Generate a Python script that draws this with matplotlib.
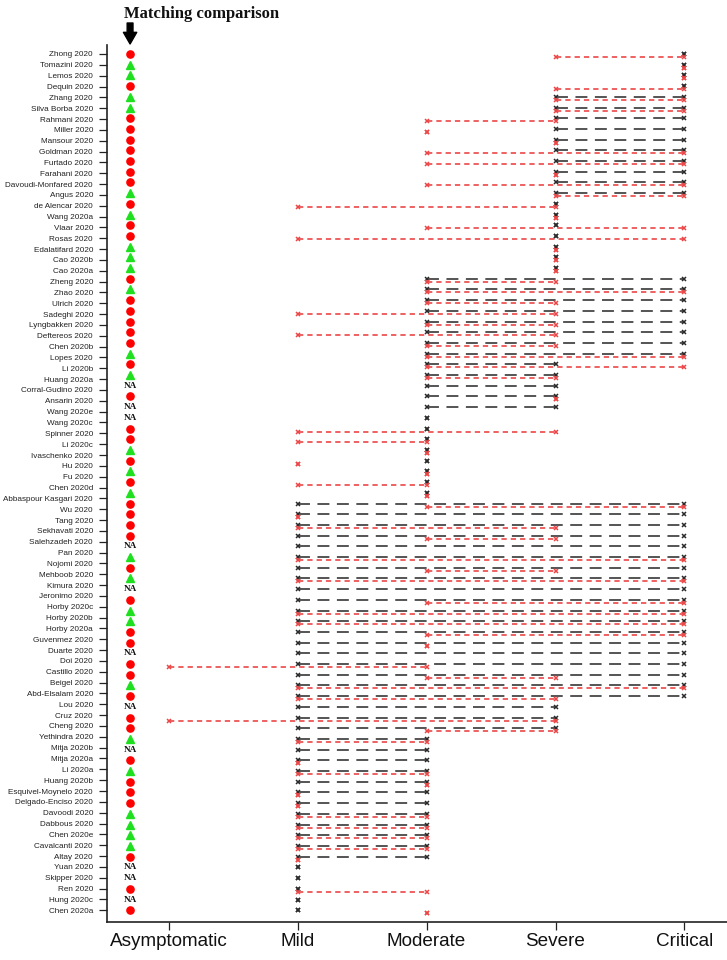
import numpy as np
import matplotlib
matplotlib.use("Agg")
import matplotlib.pyplot as plt

plt.rcParams['font.family'] = ['Liberation Sans', 'DejaVu Sans']
plt.rcParams['lines.scale_dashes'] = False

# ---- data ----
study_labels = [
    "Zhong 2020", "Tomazini 2020", "Lemos 2020", "Dequin 2020", "Zhang 2020",
    "Silva Borba 2020", "Rahmani 2020", "Miller 2020", "Mansour 2020", "Goldman 2020",
    "Furtado 2020", "Farahani 2020", "Davoudi-Monfared 2020", "Angus 2020", "de Alencar 2020",
    "Wang 2020a", "Vlaar 2020", "Rosas 2020", "Edalatifard 2020", "Cao 2020b",
    "Cao 2020a", "Zheng 2020", "Zhao 2020", "Ulrich 2020", "Sadeghi 2020",
    "Lyngbakken 2020", "Deftereos 2020", "Chen 2020b", "Lopes 2020", "Li 2020b",
    "Huang 2020a", "Corral-Gudino 2020", "Ansarin 2020", "Wang 2020e", "Wang 2020c",
    "Spinner 2020", "Li 2020c", "Ivaschenko 2020", "Hu 2020", "Fu 2020",
    "Chen 2020d", "Abbaspour Kasgari 2020", "Wu 2020", "Tang 2020", "Sekhavati 2020",
    "Salehzadeh 2020", "Pan 2020", "Nojomi 2020", "Mehboob 2020", "Kimura 2020",
    "Jeronimo 2020", "Horby 2020c", "Horby 2020b", "Horby 2020a", "Guvenmez 2020",
    "Duarte 2020", "Doi 2020", "Castillo 2020", "Beigel 2020", "Abd-Elsalam 2020",
    "Lou 2020", "Cruz 2020", "Cheng 2020", "Yethindra 2020", "Mitja 2020b",
    "Mitja 2020a", "Li 2020a", "Huang 2020b", "Esquivel-Moynelo 2020", "Delgado-Enciso 2020",
    "Davoodi 2020", "Dabbous 2020", "Chen 2020e", "Cavalcanti 2020", "Altay 2020",
    "Yuan 2020", "Skipper 2020", "Ren 2020", "Hung 2020c", "Chen 2020a",
]

severity_labels = ["Asymptomatic", "Mild", "Moderate", "Severe", "Critical"]

# matching comparison: C = red circle, T = green triangle, N = "NA"
matching = [
    "C", "T", "T", "C", "T", "T", "C", "C", "C", "C",
    "C", "C", "C", "T", "C", "T", "C", "C", "T", "T",
    "T", "C", "T", "C", "C", "C", "C", "C", "T", "C",
    "T", "N", "C", "N", "N", "C", "C", "T", "C", "T",
    "C", "T", "C", "C", "C", "C", "N", "T", "C", "T",
    "N", "C", "T", "T", "C", "C", "N", "C", "C", "T",
    "C", "N", "C", "C", "T", "N", "C", "T", "C", "C",
    "C", "T", "T", "T", "T", "C", "N", "N", "C", "N",
    "C",
]

# black range (0=Asymptomatic ... 4=Critical)
black_lo = [4] * 4 + [3] * 10 + [3] * 7 + [2] * 10 + [2] * 3 + [2] * 8 + [1] * 39
black_hi = [4] * 14 + [3] * 7 + [4] * 8 + [3] * 5 + [2] * 8 + [4] * 19 + [3] * 3 + [2] * 12 + [1] * 5

# red range (None = absent)
red_lo = [3, 4, 4, 3, 3, 3, 2, 2, 3, 2,
          2, 3, 2, 3, 1, 3, 2, 1, 3, 3,
          3, 2, 2, 2, 1, 2, 1, 2, 2, 2,
          2, None, 3, None, None, 1, 1, 2, 1, 2,
          1, 2, 2, 1, 1, 2, None, 1, 2, 1,
          None, 2, 1, 1, 2, 2, None, 0, 2, 1,
          1, None, 0, 2, 1, None, 1, 1, 2, 1,
          1, 1, 1, 1, 1, 1, None, None, 1, None,
          2]
red_hi = [4, 4, 4, 4, 4, 4, 3, 2, 3, 4,
          4, 3, 4, 4, 3, 3, 4, 4, 3, 3,
          3, 3, 4, 3, 3, 3, 3, 3, 4, 4,
          3, None, 3, None, None, 3, 2, 2, 1, 2,
          2, 2, 4, 1, 3, 3, None, 4, 3, 4,
          None, 4, 4, 4, 4, 2, None, 2, 3, 4,
          3, None, 3, 3, 2, None, 1, 2, 2, 1,
          1, 2, 2, 2, 2, 1, None, None, 2, None,
          2]

# ---- figure ----
fig = plt.figure(figsize=(7.27, 9.6), dpi=100)
ax = fig.add_axes([107 / 727, 1 - 922 / 960, 620 / 727, 877 / 960])

n = len(matching)
rows = np.arange(n)
black_line = "#474747"
black_mark = "#2a2a2a"
red_c = "#ec4646"
red_off = 0.28

for j in rows:
    lo, hi = black_lo[j], black_hi[j]
    if hi > lo:
        ax.plot([lo, hi], [j, j], color=black_line, lw=1.3, dashes=(8.6, 5.4), zorder=2)
    ax.plot([lo, hi], [j, j], ls="none", marker="x", ms=3.0, mew=1.1, color=black_mark, zorder=3)

for j in rows:
    lo, hi = red_lo[j], red_hi[j]
    if lo is None:
        continue
    if hi > lo:
        ax.plot([lo, hi], [j + red_off, j + red_off], color=red_c, lw=1.2, dashes=(3.8, 2.9), zorder=4)
    ax.plot([lo, hi], [j + red_off, j + red_off], ls="none", marker="x", ms=3.0, mew=1.1,
            color=red_c, zorder=5)

mx = -0.30
for j, m in zip(rows, matching):
    if m == "C":
        ax.plot(mx, j, marker="o", ms=5.2, color="#ff0000", mec="#ff0000", zorder=6, clip_on=False)
    elif m == "T":
        ax.plot(mx, j, marker="^", ms=6.0, color="#1ee01e", mec="#1ee01e", zorder=6, clip_on=False)
    else:
        ax.text(mx, j, "NA", ha="center", va="center", fontsize=6.6, fontweight="bold",
                family="Liberation Serif", color="#111111", zorder=6)

ax.set_xlim(-0.479, 4.33)
ax.set_ylim(81.1, -0.84)

ax.set_xticks(range(len(severity_labels)))
ax.set_xticklabels(severity_labels, fontsize=13.6, color="#111111")
ax.set_yticks(np.linspace(0, n - 1, len(study_labels)))
ax.set_yticklabels(study_labels, fontsize=5.9, color="#222222")

ax.tick_params(axis="y", length=5.8, width=0.9, pad=4.2, colors="#222222", labelcolor="#222222")
ax.tick_params(axis="x", length=5.8, width=0.9, pad=2.0, colors="#222222", labelcolor="#111111")
for s in ("top", "right"):
    ax.spines[s].set_visible(False)
for s in ("left", "bottom"):
    ax.spines[s].set_linewidth(1.2)
    ax.spines[s].set_color("#222222")

fig.text(124 / 727, 1 - 14 / 960, "Matching comparison", ha="left", va="center",
         fontsize=12, fontweight="bold", family="Liberation Serif", color="#111111")

ax.annotate("", xy=(mx, 1 - 44 / 960), xytext=(mx, 1 - 23 / 960),
            xycoords=("data", "figure fraction"), textcoords=("data", "figure fraction"),
            arrowprops=dict(arrowstyle="simple,head_length=0.7,head_width=0.8,tail_width=0.35",
                            color="black", mutation_scale=12, shrinkA=0, shrinkB=0),
            annotation_clip=False)

fig.savefig("out.png", dpi=100)
